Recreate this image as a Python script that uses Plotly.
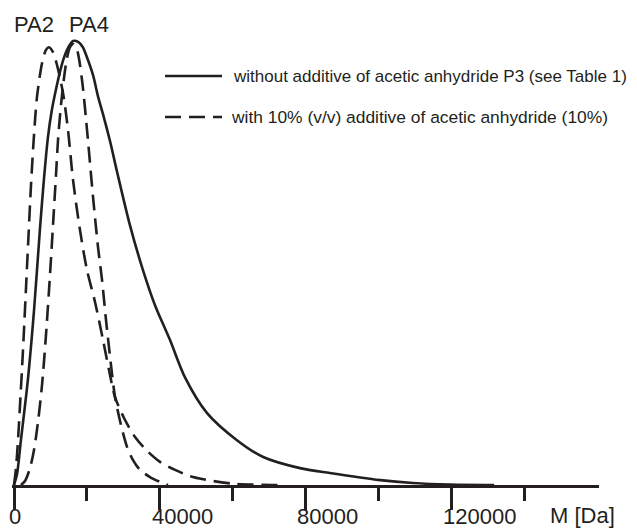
import plotly.graph_objects as go

# ---- data (M in Da, normalised intensity) ----
p3_M = [0, 800, 1900, 3800, 5500, 7100, 8200, 9300, 10400, 11500, 12600, 13700, 14800, 16200,
        17600, 18900, 20000, 21700, 23100, 24700, 26400, 28300, 31800, 35400,
        38700, 42800, 46900, 53000, 61200, 68400, 78500, 86700, 100500, 109500,
        119700, 131800]
p3_I = [0, 0.023, 0.101, 0.236, 0.394, 0.574, 0.687, 0.782, 0.845, 0.890, 0.930, 0.962, 0.984, 1.000,
        0.998, 0.986, 0.964, 0.923, 0.874, 0.827, 0.773, 0.705, 0.586, 0.484,
        0.405, 0.327, 0.243, 0.162, 0.101, 0.063, 0.038, 0.027, 0.011, 0.0045,
        0.001, 0]

pa2_M = [0, 550, 1100, 1650, 2470, 3570, 4670, 5490, 6310, 7690, 8780, 9610,
         10700, 11800, 13450, 14820, 16200, 18120, 20040, 22240, 24430, 26080,
         27730, 30200, 33220, 36510, 40080, 44200, 48310, 54630, 60120, 67530, 73020]
pa2_I = [0, 0.038, 0.101, 0.180, 0.304, 0.491, 0.676, 0.788, 0.874, 0.950, 0.980, 0.986,
         0.975, 0.946, 0.883, 0.800, 0.687, 0.574, 0.484, 0.412, 0.327, 0.259,
         0.198, 0.151, 0.108, 0.077, 0.052, 0.034, 0.020, 0.009, 0.003, 0.0007, 0]

pa4_M = [1920, 3020, 4390, 5490, 6590, 7690, 8780, 9880, 10710, 11530, 12080, 12900,
         13730, 14550, 15370, 16200, 17290, 18670, 20040, 20860, 21690, 23060,
         24160, 25250, 26630, 27730, 29370, 31020, 32670, 34590, 37330, 40080, 42270]
pa4_I = [0, 0.009, 0.038, 0.079, 0.142, 0.225, 0.338, 0.473, 0.586, 0.698, 0.777, 0.856,
         0.917, 0.962, 0.986, 0.993, 0.980, 0.912, 0.800, 0.725, 0.649, 0.536,
         0.462, 0.372, 0.270, 0.198, 0.135, 0.086, 0.056, 0.034, 0.018, 0.007, 0]

major_ticks = [0, 40000, 80000, 120000]
major_labels = ["0", "40000", "80000", "120000"]
minor_ticks = [20000, 60000, 100000, 140000]
peak_labels = ["PA2", "PA4"]
peak_label_M = [5500, 20700]
legend_labels = ["without additive of acetic anhydride P3 (see Table 1)",
                 "with 10% (v/v) additive of acetic anhydride (10%)"]

INK = "#231f20"
FONT = "Liberation Sans, Arial, Helvetica, sans-serif"
DASH = "16px,8px"

# The page body has an 8px margin, so the figure is drawn 8px right/down.
OFF = 8
W, H = 637 - OFF, 530 - OFF
PL, PR, PT, PB = 12, 599, 8, 485          # plot area in page pixels
YTOP = (485 - PT) / 444.0

fig = go.Figure()
fig.add_trace(go.Scatter(x=p3_M, y=p3_I, mode="lines", name=legend_labels[0],
                         line=dict(color=INK, width=2.6, shape="spline", smoothing=0.8)))
fig.add_trace(go.Scatter(x=pa2_M, y=pa2_I, mode="lines", name="PA2 " + legend_labels[1],
                         line=dict(color=INK, width=2.6, dash=DASH, shape="spline", smoothing=0.8)))
fig.add_trace(go.Scatter(x=pa4_M, y=pa4_I, mode="lines", name="PA4 " + legend_labels[1],
                         line=dict(color=INK, width=2.6, dash=DASH, shape="spline", smoothing=0.8)))

fig.update_layout(
    width=W, height=H,
    margin=dict(l=PL - OFF, r=637 - PR, t=PT - OFF, b=530 - PB),
    paper_bgcolor="white", plot_bgcolor="white",
    font=dict(family=FONT, color=INK),
    showlegend=False,
)
fig.update_xaxes(
    range=[-549, 160580],
    showgrid=False, zeroline=False,
    showline=True, linecolor=INK, linewidth=2.6,
    tickmode="array", tickvals=major_ticks, ticktext=major_labels,
    showticklabels=False,
    ticks="outside", ticklen=22, tickwidth=2.6, tickcolor=INK,
    minor=dict(tickmode="array", tickvals=minor_ticks, ticks="outside",
               ticklen=13, tickwidth=2.6, tickcolor=INK, showgrid=False),
)
fig.update_yaxes(range=[0, YTOP], visible=False, showgrid=False, zeroline=False)

ph = PB - PT
pw = PR - PL

def px2paper_x(px):
    return (px - PL) / pw

def px2paper_y(py):
    return (PB - py) / ph

# tick labels (left-aligned just before each major tick, as in the original;
# the first one is centred so that it stays inside the page)
for tv, tl in zip(major_ticks, major_labels):
    first = tv == major_ticks[0]
    fig.add_annotation(x=tv, y=px2paper_y(530), xref="x", yref="paper", text=tl,
                       showarrow=False, xanchor="center" if first else "left",
                       yanchor="bottom", xshift=1 if first else -9,
                       borderpad=0, font=dict(family=FONT, size=22, color=INK))

# axis title
fig.add_annotation(x=px2paper_x(549), y=px2paper_y(529), xref="paper", yref="paper",
                   text="M [Da]", showarrow=False, xanchor="left", yanchor="bottom",
                   borderpad=0, font=dict(family=FONT, size=22, color=INK))
# peak labels
for lab, xv in zip(peak_labels, peak_label_M):
    fig.add_annotation(x=xv, y=px2paper_y(24), xref="x", yref="paper", text=lab,
                       showarrow=False, xanchor="center", yanchor="middle",
                       font=dict(family=FONT, size=22, color=INK))

# manual legend
for i, (ypx, dash, fs) in enumerate([(76, "solid", 17), (117, DASH, 17.4)]):
    fig.add_shape(type="line", xref="paper", yref="paper",
                  x0=px2paper_x(165), x1=px2paper_x(222),
                  y0=px2paper_y(ypx), y1=px2paper_y(ypx),
                  line=dict(color=INK, width=2.6, dash=dash))
    fig.add_annotation(x=px2paper_x(231 if i == 0 else 229), y=px2paper_y(ypx),
                       xref="paper", yref="paper", text=legend_labels[i],
                       showarrow=False, xanchor="left", yanchor="middle",
                       font=dict(family=FONT, size=fs, color=INK))

fig.write_html("out.html")
